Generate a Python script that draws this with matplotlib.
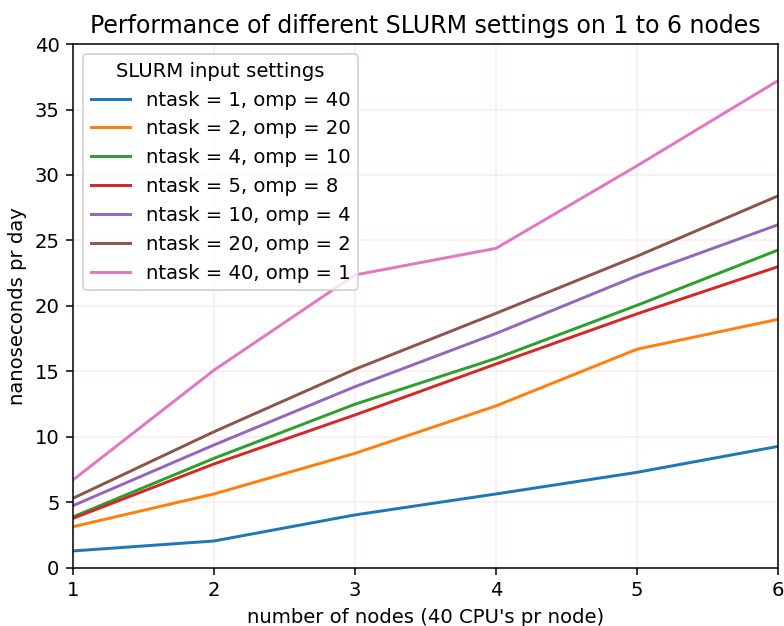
import matplotlib
matplotlib.use("Agg")
import matplotlib.pyplot as plt

nodes = [1, 2, 3, 4, 5, 6]

labels = [
    "ntask = 1, omp = 40",
    "ntask = 2, omp = 20",
    "ntask = 4, omp = 10",
    "ntask = 5, omp = 8",
    "ntask = 10, omp = 4",
    "ntask = 20, omp = 2",
    "ntask = 40, omp = 1",
]

ns_day_1_40 = [1.3, 2.06, 4.05, 5.65, 7.3, 9.28]
ns_day_2_20 = [3.15, 5.65, 8.75, 12.37, 16.7, 18.98]
ns_day_4_10 = [3.9, 8.37, 12.5, 16.0, 20.05, 24.27]
ns_day_5_8 = [3.79, 7.94, 11.68, 15.57, 19.4, 23.0]
ns_day_10_4 = [4.76, 9.39, 13.84, 17.9, 22.3, 26.2]
ns_day_20_2 = [5.32, 10.4, 15.17, 19.44, 23.8, 28.4]
ns_day_40_1 = [6.72, 15.1, 22.37, 24.4, 30.7, 37.2]

series = [ns_day_1_40, ns_day_2_20, ns_day_4_10, ns_day_5_8,
          ns_day_10_4, ns_day_20_2, ns_day_40_1]

plt.rcParams["font.size"] = 10.3

DPI = 137.5
fig, ax = plt.subplots(figsize=(784 / DPI, 626 / DPI), dpi=DPI)
for vals, lab in zip(series, labels):
    ax.plot(nodes, vals, label=lab, linewidth=1.55)

ax.grid(True, color="#fde9ef", linewidth=0.8)
ax.set_axisbelow(True)
ax.set_xlim(1, 6)
ax.set_ylim(0, 40)
ax.set_xticks(nodes)
ax.set_xlabel("number of nodes (40 CPU's pr node)")
ax.set_ylabel("nanoseconds pr day")
ax.set_title("Performance of different SLURM settings on 1 to 6 nodes",
             fontsize=12.4)
ax.legend(title="SLURM input settings", loc="upper left")

fig.subplots_adjust(left=0.0931, right=0.9923, top=0.9297, bottom=0.0927)
fig.savefig("out.png", dpi=DPI)
